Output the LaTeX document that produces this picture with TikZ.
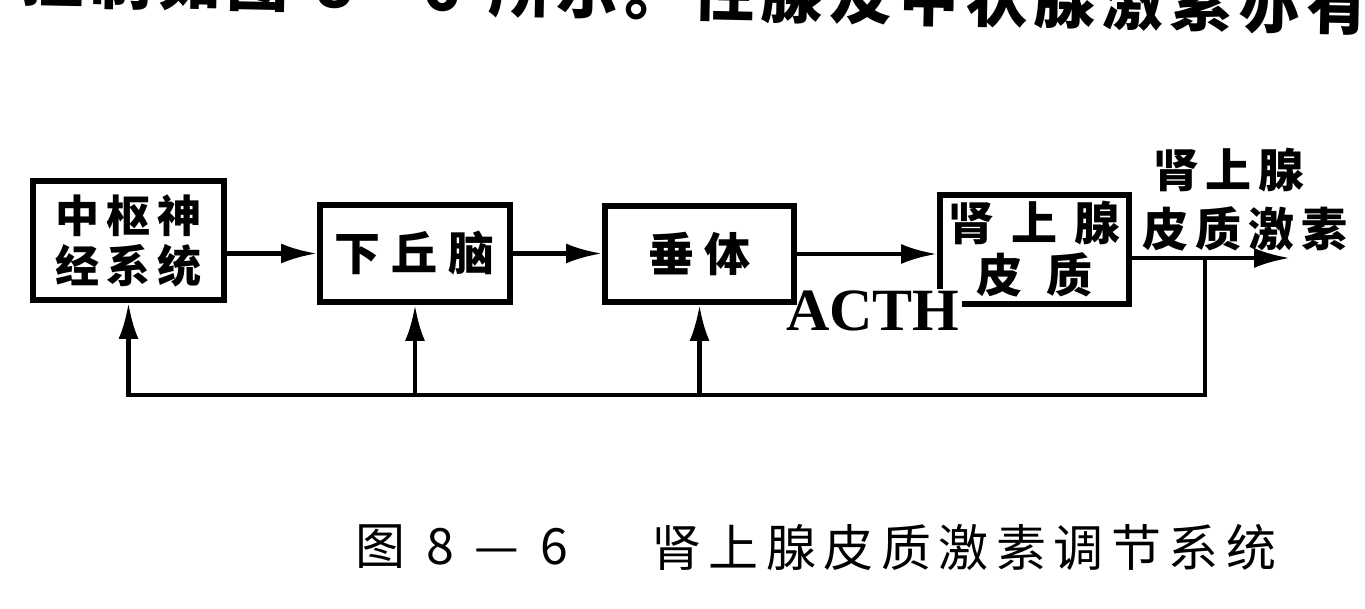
\documentclass[tikz,border=0pt]{standalone}
\usepackage{fontspec}
\setmainfont{Liberation Serif}
\newfontfamily\cjk{Noto Sans CJK SC}
\usetikzlibrary{arrows.meta}
\tikzset{
  box/.style={draw, line width=6pt, inner sep=0pt, align=center},
  lbl/.style={inner sep=0pt, align=center},
  arr/.style={line width=4.5pt, line join=miter, -{Latex[length=36pt,width=20pt]}},
}
\newcommand{\cjkfont}[2]{\cjk\bfseries\fontsize{#1}{#1}\selectfont\addfontfeature{LetterSpace=#2}}
\begin{document}
\begin{tikzpicture}[x=1pt,y=-1pt]
\useasboundingbox (0,0) rectangle (1365,609);
\clip (0,0) rectangle (1365,609);

% cut-off body text at the top
\node[lbl, anchor=west, rotate=-1.2, font=\cjkfont{62}{10}] (toptext) at (22,-22)
  {控制如图\makebox[200pt][c]{8—6}所示。性腺及甲状腺激素亦有};

% boxes
\node[box, minimum width=191pt, minimum height=119pt, font={\cjkfont{44}{16}\fontsize{44}{50}\selectfont}] (b1) at (128.5,240.5) {中枢神\\经系统};
\node[box, minimum width=190pt, minimum height=97pt, font=\cjkfont{46}{24}] (b2) at (415,253.5) {下丘脑};
\node[box, minimum width=189pt, minimum height=109pt, font={\cjkfont{46}{37}\fontsize{46}{52}\selectfont}] (b4) at (1034.5,249.5) {肾上腺\\{\addfontfeature{LetterSpace=52}皮质}};
\node[font=\bfseries\fontsize{60}{60}\selectfont, fill=white, inner sep=2pt, anchor=base west] (acth) at (784,331) {ACTH};
\node[box, minimum width=189pt, minimum height=96pt, font=\cjkfont{46}{20}] (b3) at (699.5,254) {垂体};

% output label
\node[lbl, font=\cjkfont{46}{15}] (lab1) at (1229,170) {肾上腺};
\node[lbl, font=\cjkfont{46}{15}] (lab2) at (1245,229) {皮质激素};

% forward arrows
\draw[arr] (b1.east |- b2.west) -- (b2.west);
\draw[arr] (b2.east) -- (b2.east -| b3.west);
\draw[arr] (b3.east) -- (b3.east -| b4.west);
\coordinate (out) at (1290,258);
\coordinate (br) at (1205,258);
\coordinate (fb) at (0,395);
\draw[arr] (b4.east |- out) -- (out);

% feedback
\draw[arr] (br) -- (br |- fb) -- (b1.south |- fb) -- (b1.south);
\draw[arr] (b2.south |- fb) -- (b2.south);
\draw[arr] (b3.south |- fb) -- (b3.south);

% caption
\node[lbl, anchor=west, font={\cjk\fontsize{50}{50}\selectfont\addfontfeature{LetterSpace=42}}] (cap1) at (355,547) {图8—6};
\node[lbl, anchor=west, font={\cjk\fontsize{50}{50}\selectfont\addfontfeature{LetterSpace=15}}] (cap2) at (651,547) {肾上腺皮质激素调节系统};
\end{tikzpicture}
\end{document}
